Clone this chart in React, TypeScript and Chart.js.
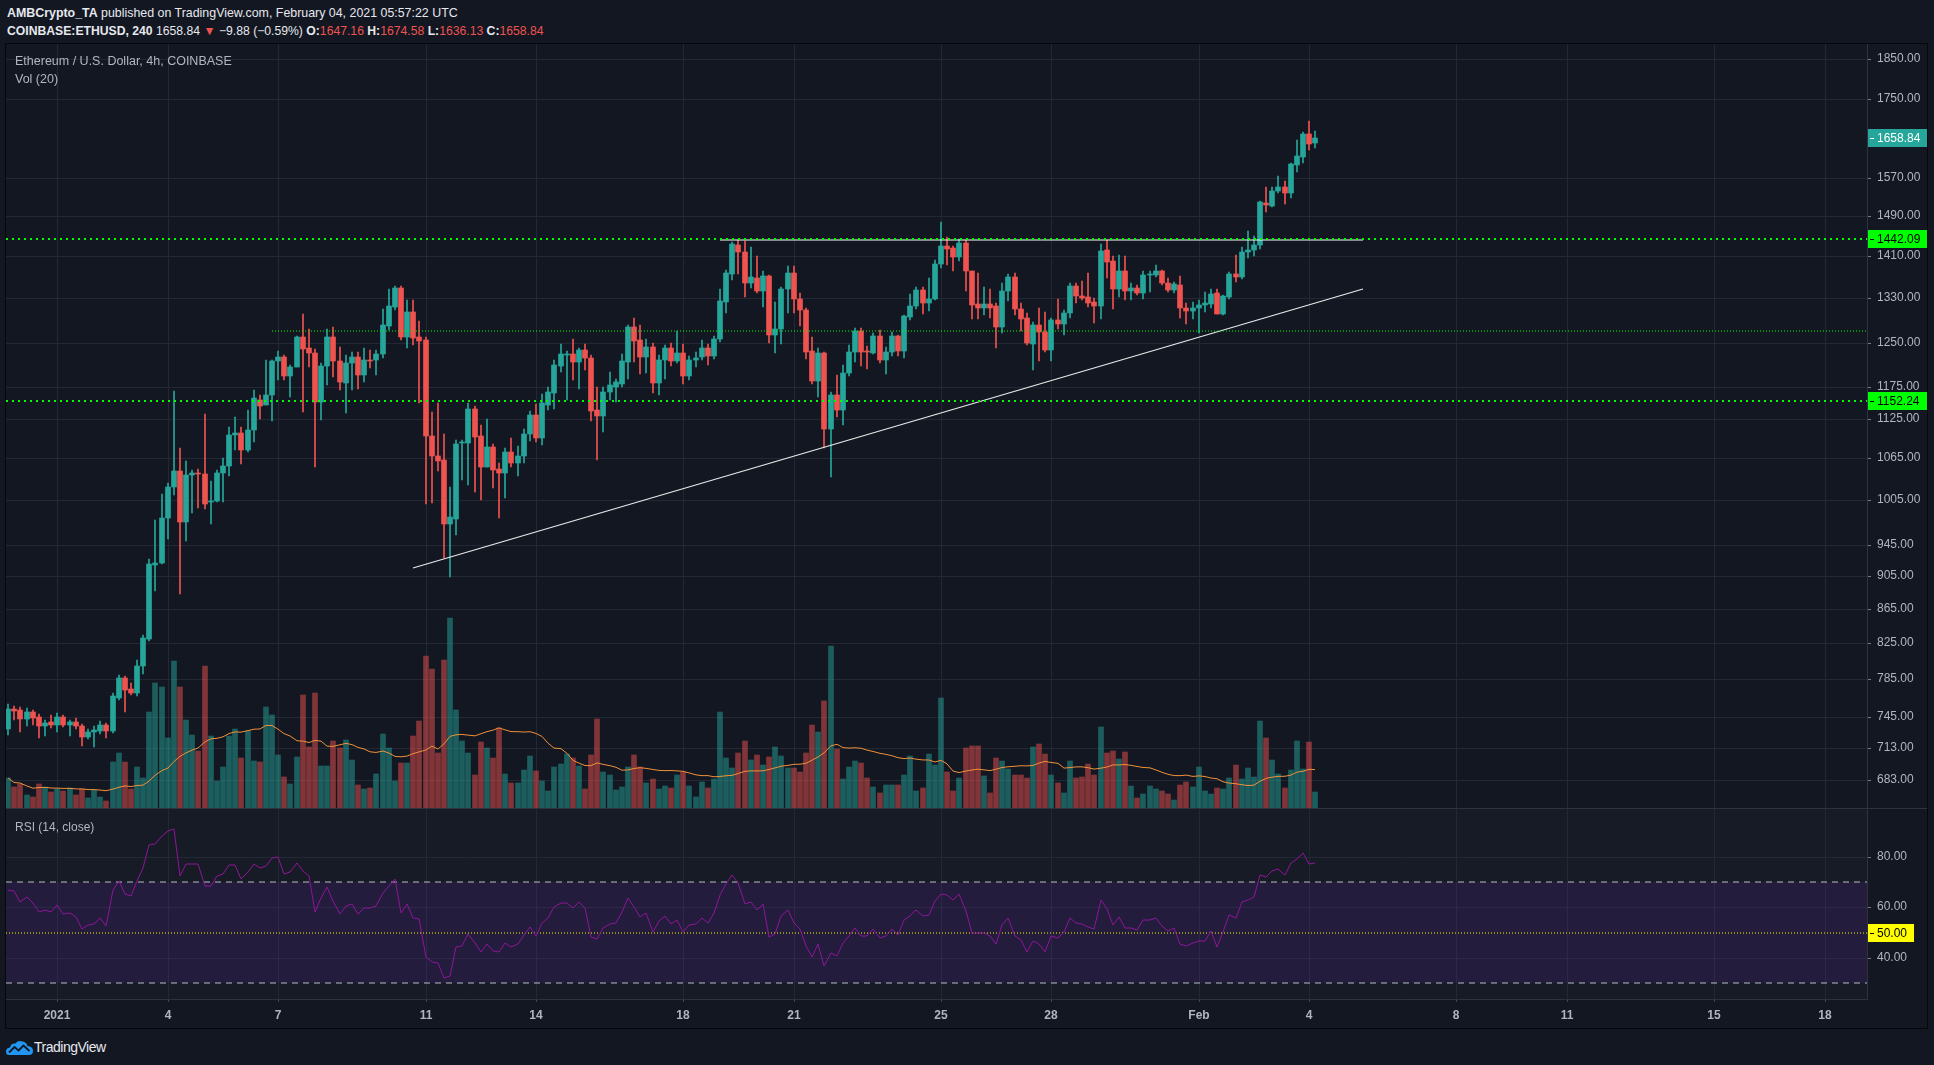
import React, { useEffect, useRef } from 'react';
import { Chart, registerables } from 'chart.js';

Chart.register(...registerables);

// ---------------- data ----------------
// 4h candles, COINBASE:ETHUSD, from Dec 30 2020 16:00 UTC to Feb 4 2021 04:00 UTC
const candleOpen = [
  732, 753, 752, 743, 750, 745, 735, 740, 736, 745,
  736, 740, 735, 724, 729, 730, 736, 730, 765, 786,
  774, 770, 799, 829, 919, 921, 981, 1024, 1046, 975,
  1041, 1044, 1042, 1003, 1004, 1043, 1054, 1100, 1103, 1077,
  1108, 1155, 1146, 1163, 1218, 1226, 1193, 1209, 1260, 1240,
  1232, 1152, 1211, 1259, 1219, 1182, 1215, 1226, 1195, 1221,
  1220, 1231, 1279, 1313, 1348, 1260, 1304, 1260, 1254, 1099,
  1069, 1063, 973, 980, 1088, 1088, 1141, 1098, 1053, 1082,
  1050, 1044, 1074, 1058, 1069, 1101, 1131, 1095, 1147, 1166,
  1211, 1229, 1231, 1217, 1238, 1224, 1138, 1130, 1167, 1176,
  1181, 1217, 1278, 1254, 1225, 1242, 1182, 1220, 1240, 1218,
  1232, 1193, 1221, 1225, 1240, 1227, 1256, 1323, 1375, 1431,
  1417, 1357, 1366, 1342, 1370, 1263, 1273, 1346, 1376, 1328,
  1308, 1235, 1185, 1232, 1109, 1162, 1139, 1199, 1234, 1270,
  1234, 1232, 1262, 1221, 1234, 1261, 1235, 1295, 1314, 1344,
  1321, 1328, 1393, 1429, 1424, 1408, 1434, 1381, 1318, 1311,
  1318, 1314, 1278, 1342, 1369, 1310, 1293, 1248, 1280, 1268,
  1237, 1290, 1283, 1302, 1351, 1334, 1332, 1322, 1315, 1420,
  1399, 1346, 1380, 1342, 1348, 1339, 1373, 1373, 1380, 1358,
  1344, 1353, 1312, 1305, 1311, 1316, 1319, 1338, 1301, 1332,
  1375, 1369, 1416, 1421, 1430, 1517, 1511, 1541, 1550, 1538,
  1598, 1616, 1668, 1647.16,
];
const candleHigh = [
  758, 756, 755, 754, 752, 748, 742, 747, 749, 747,
  742, 744, 737, 732, 735, 741, 739, 770, 789, 788,
  781, 806, 834, 926, 978, 1014, 1029, 1169, 1080, 1061,
  1048, 1049, 1132, 1032, 1048, 1066, 1113, 1127, 1113, 1138,
  1170, 1163, 1220, 1221, 1236, 1229, 1212, 1262, 1300, 1273,
  1239, 1216, 1273, 1278, 1243, 1228, 1234, 1234, 1240, 1238,
  1238, 1310, 1346, 1352, 1352, 1326, 1326, 1288, 1259, 1135,
  1150, 1102, 1023, 1093, 1093, 1150, 1145, 1116, 1124, 1086,
  1058, 1080, 1095, 1083, 1109, 1137, 1148, 1165, 1176, 1220,
  1247, 1235, 1256, 1241, 1247, 1229, 1176, 1176, 1200, 1189,
  1230, 1280, 1294, 1281, 1257, 1249, 1228, 1245, 1250, 1270,
  1247, 1227, 1234, 1254, 1247, 1261, 1346, 1382, 1436, 1441,
  1439, 1426, 1410, 1380, 1372, 1322, 1350, 1390, 1390, 1338,
  1311, 1259, 1240, 1234, 1167, 1195, 1212, 1246, 1276, 1276,
  1244, 1267, 1272, 1243, 1268, 1263, 1298, 1337, 1350, 1350,
  1366, 1402, 1477, 1447, 1428, 1442, 1441, 1381, 1377, 1349,
  1346, 1321, 1357, 1375, 1377, 1321, 1302, 1287, 1311, 1304,
  1293, 1327, 1308, 1358, 1358, 1362, 1376, 1329, 1432, 1440,
  1410, 1412, 1410, 1357, 1353, 1380, 1380, 1392, 1382, 1366,
  1359, 1371, 1320, 1323, 1325, 1341, 1346, 1346, 1335, 1378,
  1411, 1426, 1459, 1449, 1520, 1551, 1550, 1574, 1563, 1602,
  1654, 1673, 1699, 1674.58,
];
const candleLow = [
  726, 742, 729, 735, 736, 723, 725, 733, 729, 734,
  725, 732, 715, 722, 714, 727, 723, 728, 762, 750,
  768, 767, 790, 827, 886, 920, 953, 1013, 883, 950,
  987, 995, 993, 973, 1003, 1003, 1039, 1077, 1057, 1075,
  1090, 1124, 1146, 1121, 1187, 1187, 1160, 1208, 1135, 1208,
  1053, 1123, 1178, 1192, 1170, 1134, 1170, 1173, 1183, 1207,
  1195, 1223, 1272, 1308, 1255, 1240, 1245, 1150, 1000, 1001,
  1046, 928, 904, 958, 1033, 1026, 1016, 1005, 1052, 1022,
  981, 1008, 1052, 1039, 1058, 1091, 1089, 1085, 1139, 1141,
  1201, 1155, 1187, 1172, 1204, 1121, 1062, 1104, 1154, 1151,
  1176, 1189, 1217, 1197, 1199, 1166, 1163, 1188, 1210, 1215,
  1181, 1187, 1209, 1220, 1212, 1222, 1251, 1303, 1364, 1375,
  1331, 1348, 1338, 1313, 1249, 1232, 1247, 1303, 1302, 1279,
  1222, 1181, 1159, 1080, 1038, 1127, 1115, 1193, 1217, 1210,
  1205, 1231, 1216, 1197, 1227, 1227, 1223, 1290, 1309, 1300,
  1305, 1326, 1385, 1391, 1381, 1400, 1342, 1291, 1291, 1298,
  1293, 1240, 1266, 1324, 1299, 1271, 1245, 1203, 1219, 1234,
  1219, 1273, 1264, 1293, 1320, 1325, 1313, 1285, 1291, 1367,
  1309, 1331, 1325, 1325, 1335, 1328, 1341, 1369, 1354, 1340,
  1338, 1294, 1282, 1292, 1267, 1304, 1312, 1300, 1299, 1328,
  1360, 1365, 1406, 1409, 1422, 1497, 1508, 1538, 1515, 1526,
  1582, 1602, 1631, 1636.13,
];
const candleClose = [
  753, 751, 743, 750, 744, 735, 739, 736, 745, 736,
  740, 735, 724, 729, 731, 736, 730, 767, 786, 773,
  770, 799, 831, 920, 921, 981, 1024, 1046, 975, 1041,
  1043, 1042, 1000, 1004, 1043, 1054, 1100, 1103, 1077, 1108,
  1157, 1145, 1163, 1218, 1226, 1193, 1209, 1260, 1239, 1232,
  1152, 1211, 1259, 1219, 1183, 1216, 1226, 1195, 1221, 1219,
  1231, 1281, 1314, 1348, 1259, 1304, 1258, 1253, 1098, 1068,
  1061, 972, 982, 1087, 1090, 1141, 1097, 1053, 1082, 1048,
  1044, 1074, 1058, 1069, 1101, 1131, 1095, 1149, 1167, 1212,
  1230, 1231, 1217, 1238, 1223, 1137, 1130, 1167, 1179, 1183,
  1218, 1278, 1253, 1225, 1242, 1182, 1220, 1240, 1218, 1232,
  1193, 1221, 1224, 1240, 1227, 1257, 1324, 1376, 1433, 1416,
  1357, 1368, 1342, 1370, 1263, 1274, 1347, 1376, 1327, 1307,
  1234, 1185, 1232, 1109, 1162, 1139, 1199, 1234, 1270, 1234,
  1233, 1262, 1221, 1234, 1261, 1235, 1296, 1315, 1344, 1321,
  1327, 1394, 1429, 1423, 1408, 1434, 1380, 1317, 1311, 1318,
  1311, 1278, 1343, 1369, 1309, 1292, 1249, 1281, 1268, 1238,
  1290, 1283, 1303, 1352, 1333, 1330, 1321, 1315, 1419, 1398,
  1346, 1380, 1342, 1348, 1339, 1373, 1375, 1380, 1358, 1344,
  1355, 1312, 1305, 1312, 1316, 1320, 1337, 1301, 1333, 1375,
  1369, 1417, 1420, 1431, 1518, 1512, 1542, 1550, 1538, 1600,
  1618, 1668, 1645, 1658.84,
];
const volume = [
  30, 21, 24, 13, 11, 24, 21, 16, 19, 17,
  20, 13, 19, 10, 18, 11, 7, 46, 55, 46,
  19, 41, 30, 96, 125, 121, 70, 147, 121, 88,
  73, 57, 142, 72, 27, 41, 72, 79, 50, 77,
  47, 46, 101, 93, 53, 31, 24, 51, 113, 61,
  115, 42, 42, 67, 60, 68, 48, 23, 19, 20,
  34, 74, 60, 27, 45, 45, 72, 87, 152, 139,
  55, 148, 190, 98, 67, 55, 33, 66, 60, 50,
  80, 34, 25, 25, 38, 52, 37, 27, 17, 41,
  44, 54, 50, 42, 19, 53, 89, 36, 33, 18,
  21, 41, 53, 41, 25, 29, 19, 22, 20, 33,
  36, 22, 11, 26, 20, 29, 96, 50, 40, 55,
  67, 48, 53, 43, 51, 61, 52, 40, 40, 36,
  55, 83, 76, 107, 162, 59, 29, 41, 47, 45,
  30, 21, 15, 23, 23, 23, 33, 52, 17, 20,
  54, 43, 110, 36, 17, 30, 60, 62, 62, 32,
  15, 50, 47, 39, 33, 33, 30, 61, 64, 54,
  33, 25, 15, 47, 30, 31, 44, 33, 81, 55,
  57, 49, 56, 22, 10, 14, 22, 19, 17, 14,
  8, 23, 26, 21, 41, 17, 14, 20, 19, 30,
  43, 29, 40, 31, 87, 70, 48, 34, 20, 38,
  67, 39, 66, 16,
];
const rsiValues = [
  66.8, 66.4, 62.2, 64.1, 61.8, 58.0, 58.8, 58.0, 60.9, 57.4,
  57.9, 56.1, 51.3, 53.0, 53.6, 55.7, 52.6, 67.0, 70.3, 65.1,
  64.5, 70.4, 75.7, 84.7, 84.9, 88.3, 90.1, 90.9, 72.5, 77.2,
  77.2, 77.1, 68.3, 68.4, 72.2, 73.3, 76.6, 76.8, 71.2, 73.8,
  77.0, 75.4, 76.4, 79.6, 79.9, 73.0, 74.1, 77.6, 74.3, 72.4,
  58.3, 63.8, 67.9, 62.6, 57.5, 60.7, 61.4, 57.2, 59.6, 59.6,
  60.7, 65.7, 68.6, 71.2, 57.9, 61.4, 55.7, 55.4, 40.5, 38.6,
  38.0, 32.0, 33.0, 44.5, 44.6, 49.5, 46.1, 42.5, 45.4, 42.8,
  42.5, 45.8, 44.3, 45.7, 48.9, 52.2, 48.6, 53.9, 55.7, 60.1,
  61.7, 61.6, 59.7, 62.0, 59.7, 48.2, 47.5, 51.8, 53.3, 53.9,
  58.0, 63.6, 60.1, 56.3, 57.9, 50.3, 54.4, 56.4, 53.4, 54.9,
  50.1, 53.0, 53.6, 55.7, 53.7, 57.6, 64.9, 69.1, 72.6, 69.7,
  61.4, 62.2, 58.8, 61.2, 48.4, 49.5, 56.6, 58.9, 53.9, 51.6,
  44.7, 40.5, 45.4, 36.8, 41.8, 40.8, 46.1, 48.8, 51.8, 48.8,
  48.8, 51.3, 47.8, 48.7, 51.3, 48.9, 54.9, 56.6, 58.9, 56.6,
  57.0, 62.6, 65.4, 65.0, 63.0, 65.1, 58.7, 49.9, 49.7, 49.9,
  48.8, 45.5, 53.0, 55.7, 48.8, 47.1, 42.5, 46.6, 45.4, 42.2,
  48.6, 48.0, 50.4, 55.9, 53.7, 53.4, 52.4, 51.3, 62.8, 59.5,
  52.9, 56.1, 51.7, 52.0, 51.2, 55.0, 55.1, 55.9, 52.8, 50.7,
  51.7, 45.7, 44.6, 46.1, 46.6, 46.7, 50.5, 44.2, 50.3, 56.8,
  55.9, 62.2, 62.8, 63.9, 72.6, 72.1, 74.5, 75.0, 72.6, 77.4,
  78.9, 81.6, 77.0, 77.6,
];

// time: days since Jan 1 2021 00:00 UTC
const firstCandleDay = -4 / 3; // Dec 30 2020 16:00
const candleStepDays = 1 / 6; // 4 hours
const dayTicks = [0, 3, 6, 10, 13, 17, 20, 24, 27, 31, 34, 38, 41, 45, 48];
const dayTickLabels = ['2021', '4', '7', '11', '14', '18', '21', '25', '28', 'Feb', '4', '8', '11', '15', '18'];
const priceTicks = [1850, 1750, 1570, 1490, 1410, 1330, 1250, 1175, 1125, 1065, 1005, 945, 905, 865, 825, 785, 745, 713, 683];
const rsiTicks = [40, 60, 80];

// drawn levels
const supportLevels = [1442.09, 1152.24];
const midLevel = 1270;
const midLevelStartDay = 5.83;
const resistanceDays = [18.0, 35.46];
const resistancePrices = [1440, 1440];
const trendDays = [9.66, 35.46];
const trendPrices = [915, 1345.5];
const rsiBand = [30, 70];
const rsiMid = 50;
const volumeMaLength = 20;

// ---------------- scale windows / style ----------------
const X_MIN = -1.3933;
const X_MAX = 49.15;
const PRICE_MIN = 656.6;
const PRICE_MAX = 1889.3;
const VOL_MAX = 764;
const RSI_MIN = 23.8;
const RSI_MAX = 98.8;

const BG = '#131722';
const RSI_BG = '#171b26';
const GRID = '#242834';
const AXIS_LINE = '#2f3340';
const TEXT = '#b2b5be';
const UP = '#26a69a';
const DOWN = '#ef5350';
const UP_VOL = 'rgba(38,166,154,0.5)';
const DOWN_VOL = 'rgba(239,83,80,0.5)';
const FONT = '"Liberation Sans", Arial, sans-serif';

function sma(values: number[], length: number): number[] {
  return values.map((_, i) => {
    const from = Math.max(0, i - length + 1);
    let s = 0;
    for (let k = from; k <= i; k++) s += values[k];
    return s / (i - from + 1);
  });
}

const priceLabelPlugin = {
  id: 'priceLabels',
  afterDraw(chart: any) {
    const { ctx, chartArea } = chart;
    const y = chart.scales.y;
    const last = candleClose.length - 1;
    const items = [
      { value: candleClose[last], bg: candleClose[last] >= candleOpen[last] ? UP : DOWN, fg: '#ffffff' },
      ...supportLevels.map((v) => ({ value: v, bg: '#00ff00', fg: '#000000' })),
    ];
    const left = chartArea.right + 1;
    const width = chart.width - left;
    ctx.save();
    ctx.font = `12px ${FONT}`;
    ctx.textBaseline = 'middle';
    ctx.textAlign = 'left';
    items.forEach((it) => {
      const py = Math.round(y.getPixelForValue(it.value));
      ctx.fillStyle = it.bg;
      ctx.fillRect(left, py - 9, width, 18);
      ctx.fillStyle = it.fg;
      ctx.fillRect(left + 2, py, 4, 1);
      ctx.fillText(it.value.toFixed(2), chartArea.right + 10, py + 1);
    });
    ctx.restore();
  },
};

const rsiPanePlugin = {
  id: 'rsiPane',
  beforeDraw(chart: any) {
    const { ctx, chartArea } = chart;
    ctx.save();
    ctx.fillStyle = RSI_BG;
    ctx.fillRect(chartArea.left, chartArea.top, chartArea.right - chartArea.left, chartArea.bottom - chartArea.top);
    ctx.restore();
  },
  afterDraw(chart: any) {
    const { ctx, chartArea } = chart;
    const y = chart.scales.y;
    const py = Math.round(y.getPixelForValue(rsiMid));
    ctx.save();
    ctx.fillStyle = '#ffff00';
    ctx.fillRect(chartArea.right + 1, py - 9, 46, 18);
    ctx.fillStyle = '#000000';
    ctx.fillRect(chartArea.right + 3, py, 4, 1);
    ctx.font = `12px ${FONT}`;
    ctx.textBaseline = 'middle';
    ctx.textAlign = 'left';
    ctx.fillText(rsiMid.toFixed(2), chartArea.right + 10, py + 1);
    ctx.restore();
  },
};

function hLine(y: number, from: number, to: number) {
  return [
    { x: from, y },
    { x: to, y },
  ];
}

export default function App() {
  const priceRef = useRef<HTMLCanvasElement | null>(null);
  const rsiRef = useRef<HTMLCanvasElement | null>(null);

  useEffect(() => {
    const days = candleClose.map((_, i) => firstCandleDay + i * candleStepDays);
    const isUp = candleClose.map((c, i) => c >= candleOpen[i]);
    const candleColors = isUp.map((u) => (u ? UP : DOWN));
    const volColors = isUp.map((u) => (u ? UP_VOL : DOWN_VOL));
    const volMa = sma(volume, volumeMaLength);

    const lineBase = { type: 'line', pointRadius: 0, tension: 0, fill: false };

    const priceChart = new Chart(priceRef.current as HTMLCanvasElement, {
      type: 'line',
      data: {
        datasets: [
          {
            ...lineBase,
            label: 'Support 1442.09',
            data: hLine(supportLevels[0], X_MIN, X_MAX),
            borderColor: '#00ff00',
            borderWidth: 2,
            borderDash: [2, 4],
            order: 0,
          },
          {
            ...lineBase,
            label: 'Support 1152.24',
            data: hLine(supportLevels[1], X_MIN, X_MAX),
            borderColor: '#00ff00',
            borderWidth: 2,
            borderDash: [2, 4],
            order: 0,
          },
          {
            ...lineBase,
            label: 'Mid level',
            data: hLine(midLevel, midLevelStartDay, X_MAX),
            borderColor: '#00ff00',
            borderWidth: 1,
            borderDash: [1, 2],
            order: 0,
          },
          {
            ...lineBase,
            label: 'Resistance',
            data: resistanceDays.map((d, i) => ({ x: d, y: resistancePrices[i] })),
            borderColor: '#ffffff',
            borderWidth: 1,
            order: 0,
          },
          {
            ...lineBase,
            label: 'Trend line',
            data: trendDays.map((d, i) => ({ x: d, y: trendPrices[i] })),
            borderColor: '#e8e8e8',
            borderWidth: 1.3,
            order: 0,
          },
          {
            type: 'bar',
            label: 'Body',
            data: days.map((x, i) => ({ x, y: [candleOpen[i], candleClose[i]] })),
            backgroundColor: candleColors,
            barThickness: 5,
            grouped: false,
            minBarLength: 1,
            order: 1,
          },
          {
            type: 'bar',
            label: 'Wick',
            data: days.map((x, i) => ({ x, y: [candleLow[i], candleHigh[i]] })),
            backgroundColor: candleColors,
            barThickness: 1,
            grouped: false,
            order: 2,
          },
          {
            ...lineBase,
            label: 'Vol MA',
            yAxisID: 'yVol',
            data: days.map((x, i) => ({ x, y: volMa[i] })),
            borderColor: '#f0913a',
            borderWidth: 1,
            order: 3,
          },
          {
            type: 'bar',
            label: 'Volume',
            yAxisID: 'yVol',
            data: days.map((x, i) => ({ x, y: volume[i] })),
            backgroundColor: volColors,
            barThickness: 5,
            grouped: false,
            order: 4,
          },
        ] as any,
      },
      options: {
        animation: false,
        responsive: false,
        devicePixelRatio: 1,
        events: [],
        layout: { padding: 0, autoPadding: false } as any,
        plugins: { legend: { display: false }, tooltip: { enabled: false } },
        scales: {
          x: {
            type: 'linear',
            min: X_MIN,
            max: X_MAX,
            offset: false,
            alignToPixels: true,
            grid: { color: GRID, drawTicks: false, offset: false, lineWidth: 1 },
            border: { display: false },
            ticks: { display: false, autoSkip: false },
            afterBuildTicks: (s: any) => {
              s.ticks = dayTicks.map((v) => ({ value: v }));
            },
            afterFit: (s: any) => {
              s.height = 0;
              s.paddingLeft = 0;
              s.paddingRight = 0;
            },
          },
          y: {
            type: 'logarithmic',
            position: 'right',
            min: PRICE_MIN,
            max: PRICE_MAX,
            alignToPixels: true,
            grid: { color: GRID, tickLength: 4, tickColor: '#787b86', drawTicks: true, lineWidth: 1 },
            border: { display: true, color: AXIS_LINE },
            ticks: {
              color: TEXT,
              font: { family: FONT, size: 12 },
              padding: 6,
              autoSkip: false,
              callback: (v: any) => Number(v).toFixed(2),
            },
            afterBuildTicks: (s: any) => {
              s.ticks = priceTicks.map((v) => ({ value: v }));
            },
            afterFit: (s: any) => {
              s.width = 60;
              s.paddingTop = 0;
              s.paddingBottom = 0;
            },
          },
          yVol: { type: 'linear', display: false, min: 0, max: VOL_MAX },
        } as any,
      },
      plugins: [priceLabelPlugin],
    } as any);

    const rsiChart = new Chart(rsiRef.current as HTMLCanvasElement, {
      type: 'line',
      data: {
        datasets: [
          {
            ...lineBase,
            label: 'RSI',
            data: days.map((x, i) => ({ x, y: rsiValues[i] })),
            borderColor: '#8e1599',
            borderWidth: 1,
            order: 0,
          },
          {
            ...lineBase,
            label: 'Middle',
            data: hLine(rsiMid, X_MIN, X_MAX),
            borderColor: '#ffff00',
            borderWidth: 1,
            borderDash: [1, 2],
            order: 1,
          },
          {
            ...lineBase,
            label: 'Lower band',
            data: hLine(rsiBand[0], X_MIN, X_MAX),
            borderColor: '#b8bbc4',
            borderWidth: 1,
            borderDash: [6, 5],
            order: 2,
          },
          {
            ...lineBase,
            label: 'Upper band',
            data: hLine(rsiBand[1], X_MIN, X_MAX),
            borderColor: '#b8bbc4',
            borderWidth: 1,
            borderDash: [6, 5],
            fill: { value: rsiBand[0] },
            backgroundColor: 'rgba(120, 40, 220, 0.12)',
            order: 3,
          },
        ] as any,
      },
      options: {
        animation: false,
        responsive: false,
        devicePixelRatio: 1,
        events: [],
        layout: { padding: 0, autoPadding: false } as any,
        plugins: { legend: { display: false }, tooltip: { enabled: false } },
        scales: {
          x: {
            type: 'linear',
            min: X_MIN,
            max: X_MAX,
            offset: false,
            alignToPixels: true,
            grid: { color: GRID, drawTicks: true, tickLength: 3, tickColor: '#434651', offset: false, lineWidth: 1 },
            border: { display: true, color: AXIS_LINE },
            ticks: {
              color: TEXT,
              font: { family: FONT, size: 12, weight: 'bold' },
              padding: 6,
              autoSkip: false,
              maxRotation: 0,
              callback: (_v: any, i: number) => dayTickLabels[i],
            },
            afterBuildTicks: (s: any) => {
              s.ticks = dayTicks.map((v) => ({ value: v }));
            },
            afterFit: (s: any) => {
              s.height = 29;
              s.paddingLeft = 0;
              s.paddingRight = 0;
            },
          },
          y: {
            type: 'linear',
            position: 'right',
            min: RSI_MIN,
            max: RSI_MAX,
            alignToPixels: true,
            grid: { color: GRID, tickLength: 4, tickColor: '#787b86', drawTicks: true, lineWidth: 1 },
            border: { display: true, color: AXIS_LINE },
            ticks: {
              color: TEXT,
              font: { family: FONT, size: 12 },
              padding: 6,
              autoSkip: false,
              callback: (v: any) => Number(v).toFixed(2),
            },
            afterBuildTicks: (s: any) => {
              s.ticks = rsiTicks.map((v) => ({ value: v }));
            },
            afterFit: (s: any) => {
              s.width = 60;
              s.paddingTop = 0;
              s.paddingBottom = 0;
            },
          },
        } as any,
      },
      plugins: [rsiPanePlugin],
    } as any);

    return () => {
      priceChart.destroy();
      rsiChart.destroy();
    };
  }, []);

  const headerFont = { fontFamily: FONT, fontSize: 12.4, lineHeight: '16px', whiteSpace: 'nowrap' as const };
  const legendFont = { fontFamily: FONT, fontSize: 12.5, lineHeight: '16px', color: TEXT, whiteSpace: 'nowrap' as const };
  const red = { color: DOWN };

  return (
    <div
      style={{
        position: 'fixed',
        left: 0,
        top: 0,
        width: 1934,
        height: 1065,
        background: BG,
        overflow: 'hidden',
      }}
    >
      <div style={{ position: 'absolute', left: 7, top: 5, color: '#e6e8ee', ...headerFont }}>
        <b>AMBCrypto_TA</b> published on TradingView.com, February 04, 2021 05:57:22 UTC
      </div>
      <div style={{ position: 'absolute', left: 7, top: 22.5, color: '#e6e8ee', ...headerFont, fontSize: 12.2 }}>
        <b>COINBASE:ETHUSD, 240</b> 1658.84 <span style={red}>▼</span> −9.88 (−0.59%) <b>O:</b>
        <span style={red}>1647.16</span> <b>H:</b>
        <span style={red}>1674.58</span> <b>L:</b>
        <span style={red}>1636.13</span> <b>C:</b>
        <span style={red}>1658.84</span>
      </div>

      <div
        style={{
          position: 'absolute',
          left: 5,
          top: 43,
          width: 1921,
          height: 984,
          border: '1px solid #06070a',
        }}
      >
        <canvas ref={priceRef} width={1921} height={764} style={{ position: 'absolute', left: 0, top: 0 }} />
        <div style={{ position: 'absolute', left: 0, top: 764, width: 1921, height: 1, background: AXIS_LINE }} />
        <canvas ref={rsiRef} width={1921} height={219} style={{ position: 'absolute', left: 0, top: 765 }} />

        <div style={{ position: 'absolute', left: 9, top: 9, ...legendFont }}>Ethereum / U.S. Dollar, 4h, COINBASE</div>
        <div style={{ position: 'absolute', left: 9, top: 27, ...legendFont }}>Vol (20)</div>
        <div style={{ position: 'absolute', left: 9, top: 775, ...legendFont, fontSize: 12 }}>RSI (14, close)</div>
      </div>

      <div style={{ position: 'absolute', left: 6, top: 1039, display: 'flex', alignItems: 'center' }}>
        <svg width="27" height="15" viewBox="0 0 27 15">
          <path
            d="M3 15 Q0 15 0 11.5 Q0 8 4 7.5 Q5 3 9.5 3.5 Q12 0 16.5 1.5 Q20.5 2 21.5 6 Q27 6.5 27 11 Q27 15 23 15 Z"
            fill="#2196f3"
          />
          <path d="M3 12.5 L8.5 7 L12.5 10.5 L17.5 5.5 L23.5 11" stroke={BG} strokeWidth="1.8" fill="none" />
        </svg>
        <span
          style={{
            marginLeft: 1,
            fontFamily: FONT,
            fontSize: 14,
            letterSpacing: '-0.5px',
            color: '#e6e8ee',
            lineHeight: '16px',
          }}
        >
          TradingView
        </span>
      </div>
    </div>
  );
}
